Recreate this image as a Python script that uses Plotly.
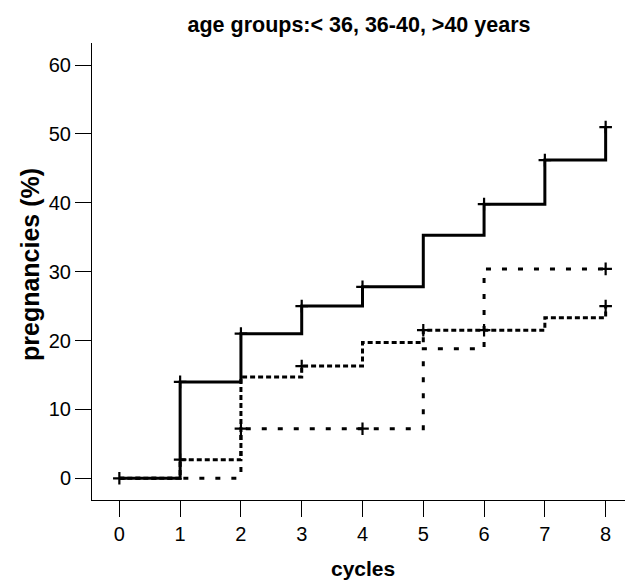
import plotly.graph_objects as go

# ---- data ----
cycles = [0, 1, 2, 3, 4, 5, 6, 7, 8]
under36 = [0, 14.0, 21.0, 25.0, 27.8, 35.3, 39.8, 46.2, 51.0]
age36_40 = [0, 2.7, 14.7, 16.3, 19.7, 21.5, 21.5, 23.3, 25.0]
over40 = [0, 0, 7.2, 7.2, 7.2, 18.8, 30.4, 30.4, 30.4]

# indices (cycles) where a censor mark "+" is drawn
cens_under36 = [0, 1, 2, 3, 4, 6, 7, 8]
cens_36_40 = [1, 3, 5, 6, 8]
cens_over40 = [2, 4, 8]

x_ticks = [0, 1, 2, 3, 4, 5, 6, 7, 8]
y_ticks = [0, 10, 20, 30, 40, 50, 60]

FONT = "Liberation Sans, Arial, sans-serif"

fig = go.Figure()

series = [
    (over40, cens_over40, "5px,11px"),
    (age36_40, cens_36_40, "5px,3px"),
    (under36, cens_under36, "solid"),
]

for vals, cens, dash in series:
    fig.add_trace(go.Scatter(
        x=cycles, y=vals, mode="lines",
        line=dict(color="black", width=3, dash=dash, shape="hv"),
        hoverinfo="skip", showlegend=False,
    ))
    fig.add_trace(go.Scatter(
        x=[cycles[i] for i in cens], y=[vals[i] for i in cens], mode="markers",
        marker=dict(symbol="cross-thin", size=9, line=dict(color="black", width=2.2)),
        hoverinfo="skip", showlegend=False,
    ))

# page body has an 8px margin; work in window pixels and shift
OFF = 8
WIN_W, WIN_H = 633, 580
W, H = WIN_W - OFF, WIN_H - OFF
L = 92 - OFF          # plot left edge at window x=92
T = 43 - OFF          # plot top at window y=43
B = WIN_H - 500       # plot bottom at window y=500
R = 0
pw, ph = W - L - R, H - T - B

def px_x(px):
    return (px - OFF - L) / pw

def px_y(py):
    return (T + ph - (py - OFF)) / ph

fig.update_layout(
    width=W, height=H,
    margin=dict(l=L, r=R, t=T, b=B, pad=0, autoexpand=False),
    paper_bgcolor="white", plot_bgcolor="white",
    font=dict(family=FONT, color="black", size=20),
    title=dict(
        text="<b>age groups:&lt; 36, 36-40, &gt;40 years</b>",
        font=dict(family=FONT, size=21.5, color="black"),
        x=(359 - OFF) / W, xref="container", xanchor="center",
        y=1 - (24 - OFF) / H, yref="container", yanchor="middle",
    ),
    xaxis=dict(
        range=[-0.45, 8.45], tickmode="array", tickvals=x_ticks,
        ticktext=[str(v) for v in x_ticks],
        showgrid=False, zeroline=False, showline=True, linecolor="black", linewidth=1,
        ticks="outside", ticklen=16, tickwidth=1.3, tickcolor="black",
        tickfont=dict(family=FONT, size=20, color="black"),
        fixedrange=True, automargin=False,
    ),
    yaxis=dict(
        range=[-3.15, 63.2], tickmode="array", tickvals=y_ticks,
        ticktext=[str(v) for v in y_ticks],
        showgrid=False, zeroline=False, showline=True, linecolor="black", linewidth=1,
        ticks="outside", ticklen=16, tickwidth=1.3, tickcolor="black",
        tickfont=dict(family=FONT, size=20, color="black"),
        fixedrange=True, automargin=False,
    ),
    annotations=[
        dict(text="<b>cycles</b>", xref="paper", yref="paper",
             x=px_x(362.5), y=px_y(568), xanchor="center", yanchor="middle",
             showarrow=False, font=dict(family=FONT, size=21, color="black")),
        dict(text="<b>pregnancies (%)</b>", xref="paper", yref="paper",
             x=px_x(30), y=px_y(265), xanchor="center", yanchor="middle",
             textangle=-90, showarrow=False,
             font=dict(family=FONT, size=25, color="black")),
    ],
)

fig.write_html("out.html")
